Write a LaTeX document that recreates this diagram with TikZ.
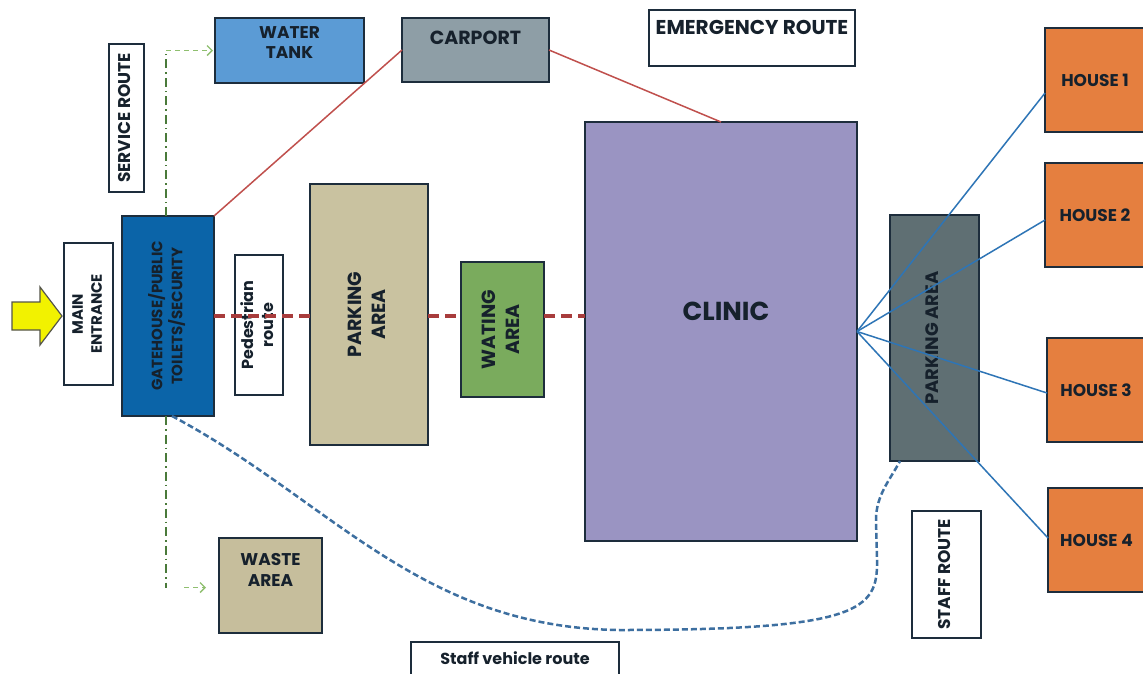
\documentclass[tikz,border=0pt]{standalone}
\usepackage{fontspec}
\setmainfont{Poppins}
\usetikzlibrary{arrows.meta,calc}
\definecolor{bordc}{HTML}{1D2D3C}
\definecolor{txtc}{HTML}{16212C}
\definecolor{gatec}{HTML}{0B64A8}
\definecolor{waterc}{HTML}{5B9BD5}
\definecolor{carc}{HTML}{8E9EA6}
\definecolor{clinicc}{HTML}{9A94C2}
\definecolor{parkc}{HTML}{C9C2A0}
\definecolor{waitc}{HTML}{7AAB5D}
\definecolor{parkdc}{HTML}{5F6F73}
\definecolor{housec}{HTML}{E57F3F}
\definecolor{wastec}{HTML}{C6BE9C}
\definecolor{redl}{HTML}{C0504D}
\definecolor{redd}{HTML}{A83C3C}
\definecolor{greenl}{HTML}{4A7A3A}
\definecolor{greena}{HTML}{8FBF6F}
\definecolor{bluel}{HTML}{2E75B6}
\definecolor{blued}{HTML}{3D6FA0}
\definecolor{arrowy}{HTML}{F2F200}
\definecolor{arrowb}{HTML}{55554A}
\newcommand\myfs[2]{\fontsize{#1}{#2}\selectfont}
\newcommand\myrot[1]{\rotatebox{90}{\begin{tabular}{@{}c@{}}#1\end{tabular}}}
\tikzset{
  box/.style={draw=bordc, line width=1.8pt, inner sep=0pt, outer sep=0pt, align=center, font=\bfseries\color{txtc}},
  toplab/.style={anchor=north, align=center, font=\bfseries\color{txtc}},
  redline/.style={draw=redl, line width=1.5pt},
  pedline/.style={draw=redd, line width=4pt, dash pattern=on 11pt off 6pt},
  svc/.style={draw=greenl, line width=1.6pt, dash pattern=on 9pt off 4pt on 1.5pt off 4pt},
  svcarr/.style={draw=greena, line width=1.4pt, dash pattern=on 5pt off 4pt, -{Straight Barb[length=5pt,width=10pt]}},
  staffline/.style={draw=blued, line width=2.5pt, dash pattern=on 6pt off 3pt},
  houseline/.style={draw=bluel, line width=1.5pt},
}
\begin{document}
\begin{tikzpicture}[x=1pt,y=-1pt]
\useasboundingbox (0,0) rectangle (1143,673);
\fill[white] (0,0) rectangle (1143,673);

% entrance arrow
\draw[draw=arrowb, fill=arrowy, line width=1.2pt, line join=miter]
  (12,302) -- (40,302) -- (40,287) -- (62,316) -- (40,345) -- (40,330) -- (12,330) -- cycle;

% boxes
\node[box, fill=white, minimum width=49pt, minimum height=142pt] (me) at (88.5,314) {\myfs{15}{19}\myrot{MAIN\\ENTRANCE}};
\node[box, fill=gatec, minimum width=92pt, minimum height=200pt] (gate) at (168,316) {\myfs{15}{19}\myrot{GATEHOUSE/PUBLIC\\TOILETS/SECURITY}};
\node[box, fill=white, minimum width=48pt, minimum height=140pt] (ped) at (259,325) {\myfs{16}{20}\myrot{Pedestrian\\route}};
\node[box, fill=white, minimum width=35pt, minimum height=148pt] (serv) at (126.5,118) {\myfs{17}{20}\myrot{SERVICE ROUTE}};
\node[box, fill=waterc, minimum width=149pt, minimum height=65pt,
  label={[toplab, yshift=-5pt, font=\bfseries\color{txtc}\myfs{17}{20}]north:WATER\\TANK}] (water) at (289.5,50.5) {};
\node[box, fill=carc, minimum width=147pt, minimum height=64pt,
  label={[toplab, yshift=-9pt, font=\bfseries\color{txtc}\myfs{19}{22}]north:CARPORT}] (carport) at (475.5,50) {};
\node[box, fill=white, minimum width=206pt, minimum height=56pt,
  label={[toplab, yshift=-7pt, font=\bfseries\color{txtc}\myfs{20}{23}]north:EMERGENCY ROUTE}] (emerg) at (752,38) {};
\node[box, fill=clinicc, minimum width=272pt, minimum height=419pt,
  label={[font=\bfseries\color{txtc}\myfs{26}{30}, xshift=5pt, yshift=20pt]center:CLINIC}] (clinic) at (721,331.5) {};
\node[box, fill=parkc, minimum width=118pt, minimum height=261pt] (park1) at (369,314.5) {\myfs{19}{24}\myrot{PARKING\\AREA}};
\node[box, fill=waitc, minimum width=83pt, minimum height=135pt] (wait) at (502.5,329.5) {\myfs{19}{24}\myrot{WATING\\AREA}};
\node[box, fill=parkdc, minimum width=89pt, minimum height=246pt] (park2) at (934.5,338) {\myfs{18}{21}\myrot{PARKING AREA}};
\node[box, fill=housec, minimum width=100pt, minimum height=104pt] (h1) at (1095,80) {\myfs{17}{20}HOUSE 1};
\node[box, fill=housec, minimum width=100pt, minimum height=104pt] (h2) at (1095,215) {\myfs{17}{20}HOUSE 2};
\node[box, fill=housec, minimum width=98pt, minimum height=104pt] (h3) at (1096,390) {\myfs{17}{20}HOUSE 3};
\node[box, fill=housec, minimum width=97pt, minimum height=104pt] (h4) at (1096.5,540) {\myfs{17}{20}HOUSE 4};
\node[box, fill=white, minimum width=69pt, minimum height=127pt] (staff) at (946.5,574.5) {\myfs{17}{20}\myrot{STAFF ROUTE}};
\node[box, fill=wastec, minimum width=103pt, minimum height=95pt,
  label={[toplab, yshift=-12pt, font=\bfseries\color{txtc}\myfs{17}{21}]north:WASTE\\AREA}] (waste) at (270.5,585.5) {};
\node[box, fill=white, minimum width=208pt, minimum height=33pt] (svr) at (515,658.5) {\myfs{16}{19}Staff vehicle route};

% emergency route (red)
\draw[redline] (gate.north east) -- (carport.west);
\draw[redline] (carport.east) -- (clinic.north);

% pedestrian route (red dashed)
\draw[pedline] (gate.east) -- (gate.east -| park1.west);
\draw[pedline] (gate.east -| park1.east) -- (gate.east -| wait.west);
\draw[pedline] (gate.east -| wait.east) -- (gate.east -| clinic.west);

% service route (green)
\coordinate (stop) at ($(gate.north |- water.west)+(-2,0)$);
\coordinate (sbot) at ($(gate.south |- waste.west)+(-2,2)$);
\draw[svc] ([xshift=-2pt]gate.north) -- (stop);
\draw[svcarr, shorten >=2pt] (stop) -- (water.west);
\draw[svc] ([xshift=-2pt]gate.south) -- (sbot);
\draw[svcarr, shorten >=13pt] ([xshift=18pt]sbot) -- ([yshift=-2pt]waste.west);

% staff vehicle route (blue dashed)
\draw[staffline] ([xshift=4pt]gate.south) .. controls (330,500) and (420,628) .. (620,630)
  .. controls (860,630) and (878,610) .. (877,560) -- (876,520)
  .. controls (876,495) and (890,480) .. ([xshift=10pt]park2.south west);

% staff routes to houses (blue)
\draw[houseline] (clinic.east) -- ([yshift=-13pt]h1.west);
\draw[houseline] (clinic.east) -- ([yshift=-5pt]h2.west);
\draw[houseline] (clinic.east) -- ([yshift=-3pt]h3.west);
\draw[houseline] (clinic.east) -- ([yshift=2pt]h4.west);
\end{tikzpicture}
\end{document}
